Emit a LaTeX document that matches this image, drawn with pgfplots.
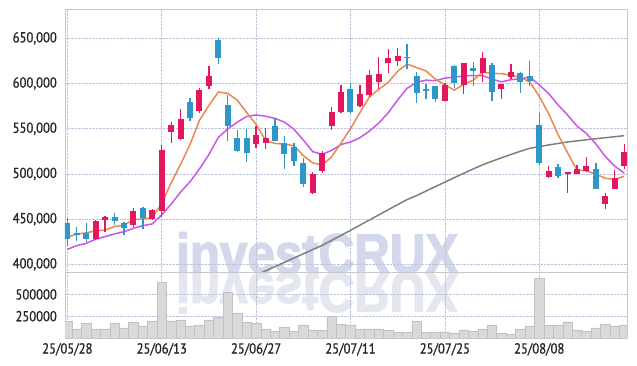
\documentclass[border=0pt]{standalone}
\usepackage{pgfplots}
\pgfplotsset{compat=1.18}
\usepackage{pgfplotstable}
\usepackage{fontspec}
\setmainfont{PT Sans}[FakeStretch=0.87, FakeBold=1]
\newfontfamily\labfont{PT Sans}[FakeStretch=0.87, FakeBold=1]
\newfontfamily\wmfont{Liberation Sans}[FakeStretch=0.88, FakeBold=2.5]
\definecolor{upc}{HTML}{E2175F}
\definecolor{dnc}{HTML}{2F96C9}
\definecolor{ma5c}{HTML}{EE8650}
\definecolor{ma10c}{HTML}{C857EA}
\definecolor{malc}{HTML}{7F7F7F}
\definecolor{gridc}{HTML}{BFC3DC}
\definecolor{framec}{HTML}{C8C8C8}
\definecolor{wmc}{HTML}{D3D8EA}
\definecolor{wmrc}{HTML}{E4E6F0}
\definecolor{volf}{HTML}{D9D9D9}
\definecolor{vold}{HTML}{C2C2C2}
\definecolor{labc}{HTML}{262626}

\pgfplotstableread{
i o h l c
3 427.7 449.0 427.0 448.0
4 449.4 453.5 435.4 452.4
7 443.5 461.9 441.7 459.0
9 450.2 461.0 449.0 460.1
10 459.4 532.0 452.7 526.5
11 546.8 557.8 534.6 554.1
12 538.7 571.5 538.0 560.8
14 570.0 594.7 567.0 592.9
15 597.6 619.8 594.0 608.3
20 533.1 553.0 528.3 543.1
21 534.6 550.4 527.2 540.1
26 478.6 502.5 477.8 499.9
27 503.6 525.4 501.4 523.5
28 553.0 574.4 548.6 568.1
29 568.9 598.4 567.0 590.3
31 575.2 598.4 573.7 588.4
32 587.3 615.0 585.5 609.4
33 602.1 629.0 594.0 610.5
34 623.1 637.8 611.3 628.6
35 625.3 638.9 619.4 630.5
40 581.1 601.0 580.7 598.4
42 598.4 622.3 588.4 622.3
44 611.3 634.5 602.1 627.9
46 593.6 599.5 582.9 599.5
47 607.6 621.2 604.6 613.1
51 497.0 509.2 495.9 503.3
53 499.6 502.5 478.6 502.2
54 500.3 509.9 499.6 505.5
55 503.6 518.4 502.5 508.8
57 466.4 479.3 460.9 475.6
58 483.7 504.4 483.0 495.1
59 509.2 532.8 505.5 524.3
}\uptable

\pgfplotstableread{
i o h l c
0 446.1 450.9 420.3 427.7
1 435.0 441.0 426.2 432.8
2 434.3 445.4 425.1 428.0
5 452.4 457.2 443.5 448.0
6 446.1 447.2 432.5 439.8
8 462.3 463.0 438.7 451.3
13 580.0 583.6 558.9 562.2
16 648.2 650.0 621.2 628.6
17 576.3 587.3 536.8 553.0
18 540.1 548.6 523.9 525.4
19 540.1 549.3 513.6 523.5
22 553.0 562.2 536.0 536.4
23 533.9 542.0 505.1 522.1
24 530.2 533.9 509.2 514.3
25 511.7 518.0 485.9 488.5
30 594.0 601.0 565.9 568.9
36 629.7 643.7 616.1 628.6
37 608.3 613.1 578.1 589.9
38 594.0 599.1 582.9 592.1
39 597.6 597.6 579.2 582.9
41 619.4 620.5 594.7 600.2
43 616.8 624.2 597.3 614.2
45 620.5 623.1 580.7 591.0
48 612.0 613.1 589.2 602.1
49 608.3 624.9 597.6 602.8
50 554.1 567.0 509.9 511.7
52 507.7 510.6 495.9 497.7
56 505.5 511.7 483.0 483.7
}\downtable

\pgfplotstableread{
i ma5 ma10
0 430.0 416.6
1 433.5 420.7
2 434.8 423.2
3 437.0 427.7
4 437.8 430.6
5 441.8 433.6
6 443.2 436.1
7 449.4 439.8
8 450.1 442.8
9 451.6 444.7
10 467.3 454.6
11 490.2 466.7
12 510.6 480.0
13 532.7 491.4
14 559.3 505.5
15 575.7 521.5
16 590.6 540.4
17 589.0 549.8
18 581.6 557.2
19 567.8 563.5
20 554.7 565.2
21 537.0 563.8
22 533.7 561.4
23 533.0 557.3
24 531.2 549.5
25 520.3 537.5
26 512.2 524.6
27 509.7 521.7
28 518.9 526.0
29 534.1 532.6
30 550.1 535.2
31 567.8 540.0
32 585.0 547.3
33 593.5 556.2
34 601.2 567.6
35 613.5 581.8
36 621.5 594.7
37 617.6 601.3
38 613.9 603.7
39 604.8 603.0
40 598.4 605.9
41 592.7 607.1
42 599.2 608.4
43 603.6 608.8
44 612.6 608.7
45 611.1 604.8
46 611.0 601.8
47 609.1 604.2
48 606.7 605.2
49 601.7 607.2
50 585.8 598.5
51 566.6 588.8
52 543.5 576.3
53 523.5 565.1
54 504.1 552.9
55 503.5 544.7
56 499.6 533.1
57 495.2 519.3
58 493.7 508.6
59 497.5 500.8
}\matable

\pgfplotstableread{
i ma
18 380.6
19 385.3
20 388.1
21 392.8
22 397.5
23 402.2
24 406.9
25 411.6
26 416.3
27 421.0
28 426.5
29 432.0
30 437.6
31 443.3
32 449.0
33 454.7
34 460.4
35 466.0
36 471.6
37 476.0
38 481.0
39 486.0
40 490.9
41 495.8
42 500.7
43 505.5
44 510.0
45 514.0
46 517.8
47 521.5
48 525.0
49 528.3
50 530.2
51 532.0
52 533.7
53 535.3
54 536.5
55 537.7
56 538.9
57 540.0
58 541.1
59 542.3
}\longma

\pgfplotstableread{
i v
0 188000
1 104000
2 173000
3 104000
4 104000
5 173000
6 115000
7 185000
8 138000
9 196000
10 635000
11 196000
12 208000
13 138000
14 150000
15 208000
16 242000
17 519000
18 288000
19 185000
20 173000
21 104000
22 81000
23 127000
24 81000
25 150000
26 92000
27 92000
28 254000
29 162000
30 150000
31 104000
32 104000
33 104000
34 92000
35 69000
36 69000
37 196000
38 69000
39 69000
40 69000
41 58000
42 92000
43 81000
44 104000
45 150000
46 58000
47 46000
48 104000
49 138000
50 685000
51 150000
52 150000
53 185000
54 92000
55 81000
56 115000
57 162000
58 138000
59 150000
}\voltable

\pgfplotsset{
  common/.style={
    scale only axis, width=562pt,
    xmin=-0.25, xmax=59.3,
    axis line style={draw=framec, line width=0.8pt},
    grid=major,
    major grid style={draw=gridc, densely dotted, line width=0.6pt},
    tick style={draw=none},
    xtick={0,10,20,30,40,50},
    scaled y ticks=false,
    /pgf/number format/assume math mode=true,
    ticklabel style={font=\labfont\fontsize{14.5}{15}\selectfont, text=labc},
    yticklabel style={inner sep=0pt, anchor=east, xshift=-8pt},
  },
  candle/.style={only marks, mark=*, mark size=0pt, mark options={draw opacity=0, fill opacity=0},
    error bars/.cd, y dir=both, y explicit, error mark=none,
    error bar style={draw=#1}},
}

\begin{document}
\begin{tikzpicture}
% watermark
\node[anchor=base west, inner sep=0pt, text=wmc, font=\wmfont\bfseries\fontsize{56}{56}\selectfont] at (176pt,93pt) {investCRUX};
\begin{scope}
\clip (0pt,52pt) rectangle (637pt,93pt);
\node[anchor=base west, inner sep=0pt, yscale=-1, text=wmrc, font=\wmfont\bfseries\fontsize{56}{56}\selectfont] at (176pt,93pt) {investCRUX};
\end{scope}

\begin{axis}[common,
  at={(65pt,94pt)}, anchor=south west, height=263pt,
  ymin=391.5, ymax=682.4,
  xticklabels={},
  ytick={400,450,500,550,600,650},
  yticklabels={{400,000},{450,000},{500,000},{550,000},{600,000},{650,000}},
]
\addplot[malc, line width=1.5pt] table[x=i, y=ma] {\longma};
\addplot[ma10c, line width=1.5pt] table[x=i, y=ma10] {\matable};
\addplot[ma5c, line width=1.5pt] table[x=i, y=ma5] {\matable};
% wicks
\addplot[candle=upc, error bar style={line width=1.3pt}]
  table[x=i, y expr={(\thisrow{h}+\thisrow{l})/2}, y error expr={(\thisrow{h}-\thisrow{l})/2}] {\uptable};
\addplot[candle=dnc, error bar style={line width=1.3pt}]
  table[x=i, y expr={(\thisrow{h}+\thisrow{l})/2}, y error expr={(\thisrow{h}-\thisrow{l})/2}] {\downtable};
% bodies
\addplot[candle=upc, error bar style={line width=6pt}]
  table[x=i, y expr={(\thisrow{o}+\thisrow{c})/2}, y error expr={max(abs(\thisrow{c}-\thisrow{o})/2,0.6)}] {\uptable};
\addplot[candle=dnc, error bar style={line width=6pt}]
  table[x=i, y expr={(\thisrow{o}+\thisrow{c})/2}, y error expr={max(abs(\thisrow{c}-\thisrow{o})/2,0.6)}] {\downtable};
\end{axis}

\begin{axis}[common,
  at={(65pt,28pt)}, anchor=south west, height=66pt,
  ymin=0, ymax=757000,
  ytick={250000,500000},
  yticklabels={250000,500000},
  xticklabels={25/05/28,25/06/13,25/06/27,25/07/11,25/07/25,25/08/08},
  xticklabel style={anchor=north, inner sep=0pt, yshift=-5pt},
]
\addplot[ybar, bar width=1, fill=volf, draw=vold, line width=0.6pt] table[x=i, y=v] {\voltable};
\end{axis}
\pgfresetboundingbox
\path[use as bounding box] (0pt,0pt) rectangle (637pt,366pt);
\end{tikzpicture}
\end{document}
